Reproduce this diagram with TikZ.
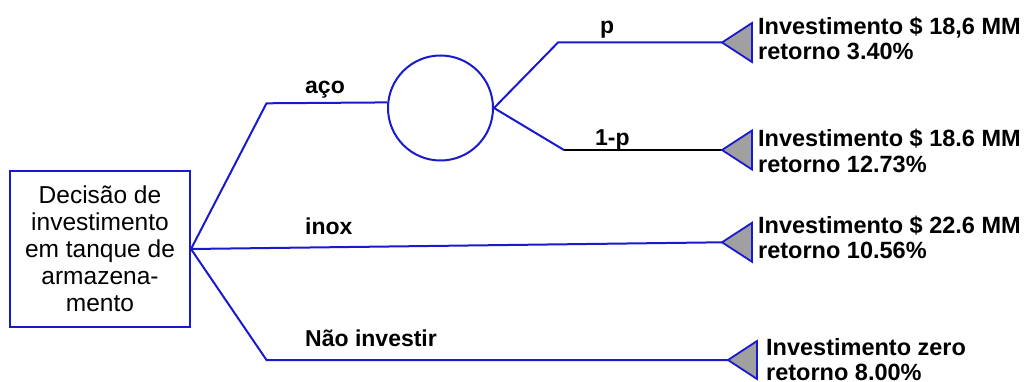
\documentclass[tikz,border=0pt]{standalone}
\usepackage{fontspec}
\setmainfont{Liberation Sans}
\definecolor{lineblue}{RGB}{25,25,205}
\definecolor{tgray}{RGB}{160,160,160}
\tikzset{
  conn/.style={draw=lineblue, line width=2pt, line join=miter},
  blackconn/.style={draw=black, line width=1.6pt},
  branchlbl/.style={anchor=base west, inner sep=0pt, font=\fontsize{23}{25}\selectfont\bfseries},
  outlbl/.style={anchor=base west, inner sep=0pt, font=\fontsize{23.5}{25}\selectfont\bfseries},
  endtri/.style={draw=lineblue, line width=1.8pt, fill=tgray, line join=miter},
  decbox/.style={draw=lineblue, line width=2pt, minimum width=180pt, minimum height=156pt, align=center, inner sep=0pt, font=\fontsize{24.5}{27}\selectfont},
  chance/.style={circle, draw=lineblue, line width=2pt, minimum size=105pt, inner sep=0pt}
}
\begin{document}
\begin{tikzpicture}[x=1pt,y=-1pt]
\useasboundingbox (0,0) rectangle (1029,382);
% nodes
\node[decbox] (dec) at (100,249) {Decisão de\\investimento\\em tanque de\\armazena-\\mento};
\node[chance] (c) at (440.5,108) {};
% bends and tips
\coordinate (b1) at (266.5,103.3);
\coordinate (b4) at (266.5,360);
\coordinate (bp) at (558,42.5);
\coordinate (bq) at (564,150);
\coordinate (t1) at (722,42.5);
\coordinate (t2) at (722,150);
\coordinate (t3) at (722,242.3);
\coordinate (t4) at (728,360);
% connectors
\draw[conn] (dec.east) -- (b1) -- (c.174.5);
\draw[conn] (dec.east) -- (t3);
\draw[conn] (dec.east) -- (b4) -- (t4);
\draw[conn] (c.east) -- (bp) -- (t1);
\draw[conn] (c.east) -- (bq);
\draw[blackconn] (bq) -- (t2);
% end triangles
\draw[endtri] (t1) -- ++(30,-19.5) -- ++(0,39) -- cycle;
\draw[endtri] (t2) -- ++(30,-19.5) -- ++(0,39) -- cycle;
\draw[endtri] (t3) -- ++(30,-19.5) -- ++(0,39) -- cycle;
\draw[endtri] (t4) -- ++(29,-19) -- ++(0,38) -- cycle;
% branch labels
\node[branchlbl] (laco) at (305,94) {aço};
\node[branchlbl] (linox) at (305,235) {inox};
\node[branchlbl] (lnao) at (305,347) {Não investir};
\node[branchlbl] (lp) at (600,34) {p};
\node[branchlbl] (lq) at (595,146) {1-p};
% outcome labels
\node[outlbl] (o1a) at (758,34.5) {Investimento \$ 18,6 MM};
\node[outlbl] (o1b) at (758,60) {retorno 3.40\%};
\node[outlbl] (o2a) at (758,146.7) {Investimento \$ 18.6 MM};
\node[outlbl] (o2b) at (758,172.7) {retorno 12.73\%};
\node[outlbl] (o3a) at (758,233.3) {Investimento \$ 22.6 MM};
\node[outlbl] (o3b) at (758,258.3) {retorno 10.56\%};
\node[outlbl] (o4a) at (766,355.7) {Investimento zero};
\node[outlbl] (o4b) at (766,380.5) {retorno 8.00\%};
\end{tikzpicture}
\end{document}
